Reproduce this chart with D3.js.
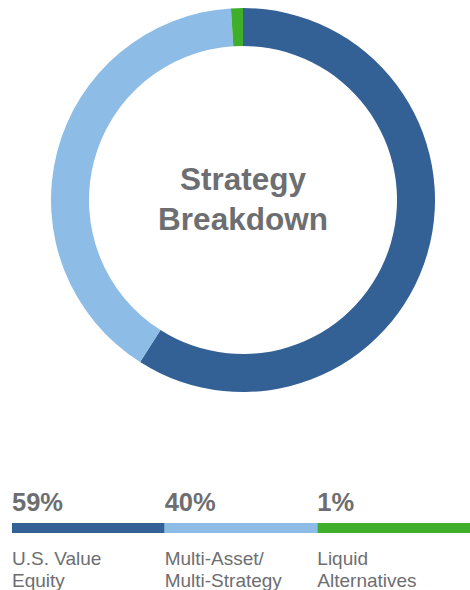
<!DOCTYPE html>
<html>
<head>
<meta charset="utf-8">
<script src="https://cdn.jsdelivr.net/npm/d3@7"></script>
<style>
  html, body { margin: 0; padding: 0; background: #fff; }
  svg { display: block; font-family: "Liberation Sans", Arial, sans-serif; }
</style>
</head>
<body>
<div id="chart"></div>
<script>
// Strategy shares (percent)
const categories = ["U.S. Value Equity", "Multi-Asset/ Multi-Strategy", "Liquid Alternatives"];
const labelLines = [["U.S. Value", "Equity"], ["Multi-Asset/", "Multi-Strategy"], ["Liquid", "Alternatives"]];
const values = [59, 40, 1];
const colors = ["#336195", "#8dbde6", "#3fae2a"];
const centerTitle = ["Strategy", "Breakdown"];

const width = 470, height = 590;
const cx = 243, cy = 200;
const outerR = 192, innerR = 154;

const svg = d3.select("#chart").append("svg")
    .attr("width", width)
    .attr("height", height)
    .attr("viewBox", [0, 0, width, height]);

// Donut
const pie = d3.pie().sort(null).value(d => d);
const arc = d3.arc().innerRadius(innerR).outerRadius(outerR);

const g = svg.append("g").attr("transform", `translate(${cx},${cy})`);
g.selectAll("path")
    .data(pie(values))
    .join("path")
    .attr("d", arc)
    .attr("fill", (d, i) => colors[i]);

// center title
g.selectAll("text.title")
    .data(centerTitle)
    .join("text")
    .attr("class", "title")
    .attr("text-anchor", "middle")
    .attr("x", 0)
    .attr("y", (d, i) => -10 + i * 40)
    .attr("fill", "#6d6e71")
    .attr("font-size", 31.5)
    .attr("font-weight", "bold")
    .text(d => d);

// Legend bar
const lx = d3.scaleLinear().domain([0, categories.length]).range([12, 470]);

const leg = svg.append("g");
leg.selectAll("rect")
    .data(categories)
    .join("rect")
    .attr("x", (d, i) => lx(i))
    .attr("y", 523)
    .attr("width", (d, i) => lx(i + 1) - lx(i))
    .attr("height", 10)
    .attr("fill", (d, i) => colors[i]);

leg.selectAll("text.pct")
    .data(values)
    .join("text")
    .attr("class", "pct")
    .attr("x", (d, i) => lx(i))
    .attr("y", 511)
    .attr("fill", "#6d6e71")
    .attr("font-size", 25.5)
    .attr("font-weight", "bold")
    .text(d => d + "%");

leg.selectAll("text.lab")
    .data(labelLines)
    .join("text")
    .attr("class", "lab")
    .attr("x", (d, i) => lx(i))
    .attr("y", 565)
    .attr("fill", "#6d6e71")
    .attr("font-size", 19)
    .each(function(lines) {
        const t = d3.select(this);
        lines.forEach((line, j) => {
            t.append("tspan")
                .attr("x", t.attr("x"))
                .attr("dy", j === 0 ? 0 : 21.5)
                .text(line);
        });
    });
</script>
</body>
</html>
